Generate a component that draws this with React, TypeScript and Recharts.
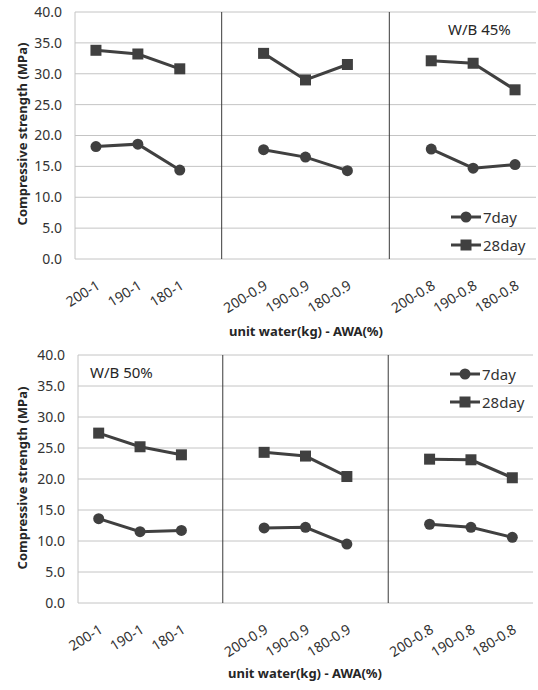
import React from 'react';
import {
  LineChart,
  Line,
  XAxis,
  YAxis,
  CartesianGrid,
  ReferenceLine,
} from 'recharts';

const categories = ['200-1', '190-1', '180-1', 'gap-a', '200-0.9', '190-0.9', '180-0.9', 'gap-b', '200-0.8', '190-0.8', '180-0.8'];
const yTicks = [0, 5, 10, 15, 20, 25, 30, 35, 40];

const day7WB45 = [18.2, 18.6, 14.4, null, 17.7, 16.5, 14.3, null, 17.8, 14.7, 15.3];
const day28WB45 = [33.8, 33.2, 30.8, null, 33.3, 29.0, 31.5, null, 32.1, 31.7, 27.4];
const day7WB50 = [13.6, 11.5, 11.7, null, 12.1, 12.2, 9.5, null, 12.7, 12.2, 10.6];
const day28WB50 = [27.4, 25.2, 23.9, null, 24.3, 23.7, 20.4, null, 23.2, 23.1, 20.2];

const INK = '#404040';
const TEXT = '#333333';
const GRID = '#c4c4c4';
const FONT = '"Noto Sans", sans-serif';

function build(d7: (number | null)[], d28: (number | null)[]) {
  return categories.map((c, i) => ({ cat: c, d7: d7[i], d28: d28[i] }));
}

function XTick(props: any) {
  const { x, y, payload } = props;
  if (String(payload.value).startsWith('gap')) return <g />;
  const ax = x + 5;
  const ay = y + 21;
  return (
    <text
      x={ax}
      y={ay}
      transform={`rotate(-32 ${ax} ${ay})`}
      textAnchor="end"
      fontSize={14}
      fontFamily={FONT}
      fill={TEXT}
    >
      {payload.value}
    </text>
  );
}

function SquareDot(props: any) {
  const { cx, cy, index } = props;
  if (cx == null || cy == null) return <g key={`s${index}`} />;
  return <rect key={`s${index}`} x={cx - 5.5} y={cy - 5.5} width={11} height={11} fill={INK} />;
}

function CircleDot(props: any) {
  const { cx, cy, index } = props;
  if (cx == null || cy == null) return <g key={`c${index}`} />;
  return <circle key={`c${index}`} cx={cx} cy={cy} r={5.5} fill={INK} />;
}

function LegendBox({ left, top }: { left: number; top: number }) {
  const row = (label: string, square: boolean) => (
    <div style={{ display: 'flex', alignItems: 'center', height: 28 }}>
      <svg width={32} height={14}>
        <line x1={1} y1={7} x2={31} y2={7} stroke={INK} strokeWidth={3} />
        {square ? <rect x={10.5} y={1.5} width={11} height={11} fill={INK} /> : <circle cx={16} cy={7} r={5.5} fill={INK} />}
      </svg>
      <span style={{ fontSize: 15, fontFamily: FONT, color: TEXT, marginLeft: 1 }}>{label}</span>
    </div>
  );
  return (
    <div style={{ position: 'absolute', left, top }}>
      {row('7day', false)}
      {row('28day', true)}
    </div>
  );
}

interface PanelProps {
  d7: (number | null)[];
  d28: (number | null)[];
  margin: { top: number; right: number; left: number; bottom: number };
  yWidth: number;
}

function Panel({ d7, d28, margin, yWidth }: PanelProps) {
  const data = build(d7, d28);
  return (
    <LineChart width={538} height={345} data={data} margin={margin}>
      <CartesianGrid stroke={GRID} vertical={false} />
      <XAxis
        dataKey="cat"
        scale="band"
        interval={0}
        axisLine={false}
        tickLine={false}
        height={70}
        tick={<XTick />}
      />
      <YAxis
        domain={[0, 40]}
        ticks={yTicks}
        width={yWidth}
        tickFormatter={(v: number) => v.toFixed(1)}
        tick={{ fontSize: 14, fill: TEXT, fontFamily: FONT }}
        tickLine={false}
        tickSize={0}
        tickMargin={13}
        axisLine={{ stroke: GRID }}
      />
      <YAxis yAxisId="r" orientation="right" width={0} tick={false} tickLine={false} axisLine={{ stroke: GRID }} />
      <ReferenceLine x="gap-a" stroke="#3a3a3a" strokeWidth={1} />
      <ReferenceLine x="gap-b" stroke="#3a3a3a" strokeWidth={1} />
      <Line
        dataKey="d7"
        name="7day"
        stroke={INK}
        strokeWidth={3}
        dot={<CircleDot />}
        connectNulls={false}
        isAnimationActive={false}
      />
      <Line
        dataKey="d28"
        name="28day"
        stroke={INK}
        strokeWidth={3}
        dot={<SquareDot />}
        connectNulls={false}
        isAnimationActive={false}
      />
    </LineChart>
  );
}

const yTitle: React.CSSProperties = {
  position: 'absolute',
  width: 260,
  textAlign: 'center',
  transform: 'rotate(-90deg)',
  fontSize: 13,
  fontWeight: 700,
  fontFamily: FONT,
  color: '#262626',
  whiteSpace: 'nowrap',
};

const xTitle: React.CSSProperties = {
  position: 'absolute',
  width: 300,
  textAlign: 'center',
  fontSize: 13,
  fontWeight: 700,
  fontFamily: FONT,
  color: '#262626',
};

const wbLabel: React.CSSProperties = {
  position: 'absolute',
  fontSize: 15,
  fontFamily: FONT,
  color: '#262626',
  whiteSpace: 'nowrap',
};

export default function App() {
  return (
    <div style={{ position: 'absolute', left: 0, top: 0, width: 538, height: 690, background: '#fff' }}>
      <div style={{ position: 'absolute', left: 0, top: 0 }}>
        <Panel
          d7={day7WB45}
          d28={day28WB45}
          margin={{ top: 12, right: 2, left: 0, bottom: 16 }}
          yWidth={75}
        />
      </div>
      <div style={{ position: 'absolute', left: 0, top: 345 }}>
        <Panel
          d7={day7WB50}
          d28={day28WB50}
          margin={{ top: 10, right: 5, left: 0, bottom: 17 }}
          yWidth={78}
        />
      </div>
      <LegendBox left={450} top={203} />
      <LegendBox left={449} top={360} />
      <div style={{ ...yTitle, left: 22 - 130, top: 135 - 10 }}>Compressive strength (MPa)</div>
      <div style={{ ...yTitle, left: 22 - 130, top: 479 - 10 }}>Compressive strength (MPa)</div>
      <div style={{ ...xTitle, left: 306 - 150, top: 322 }}>unit water(kg) - AWA(%)</div>
      <div style={{ ...xTitle, left: 305 - 150, top: 664 }}>unit water(kg) - AWA(%)</div>
      <div style={{ ...wbLabel, left: 448, top: 19 }}>W/B 45%</div>
      <div style={{ ...wbLabel, left: 90, top: 362 }}>W/B 50%</div>
    </div>
  );
}
